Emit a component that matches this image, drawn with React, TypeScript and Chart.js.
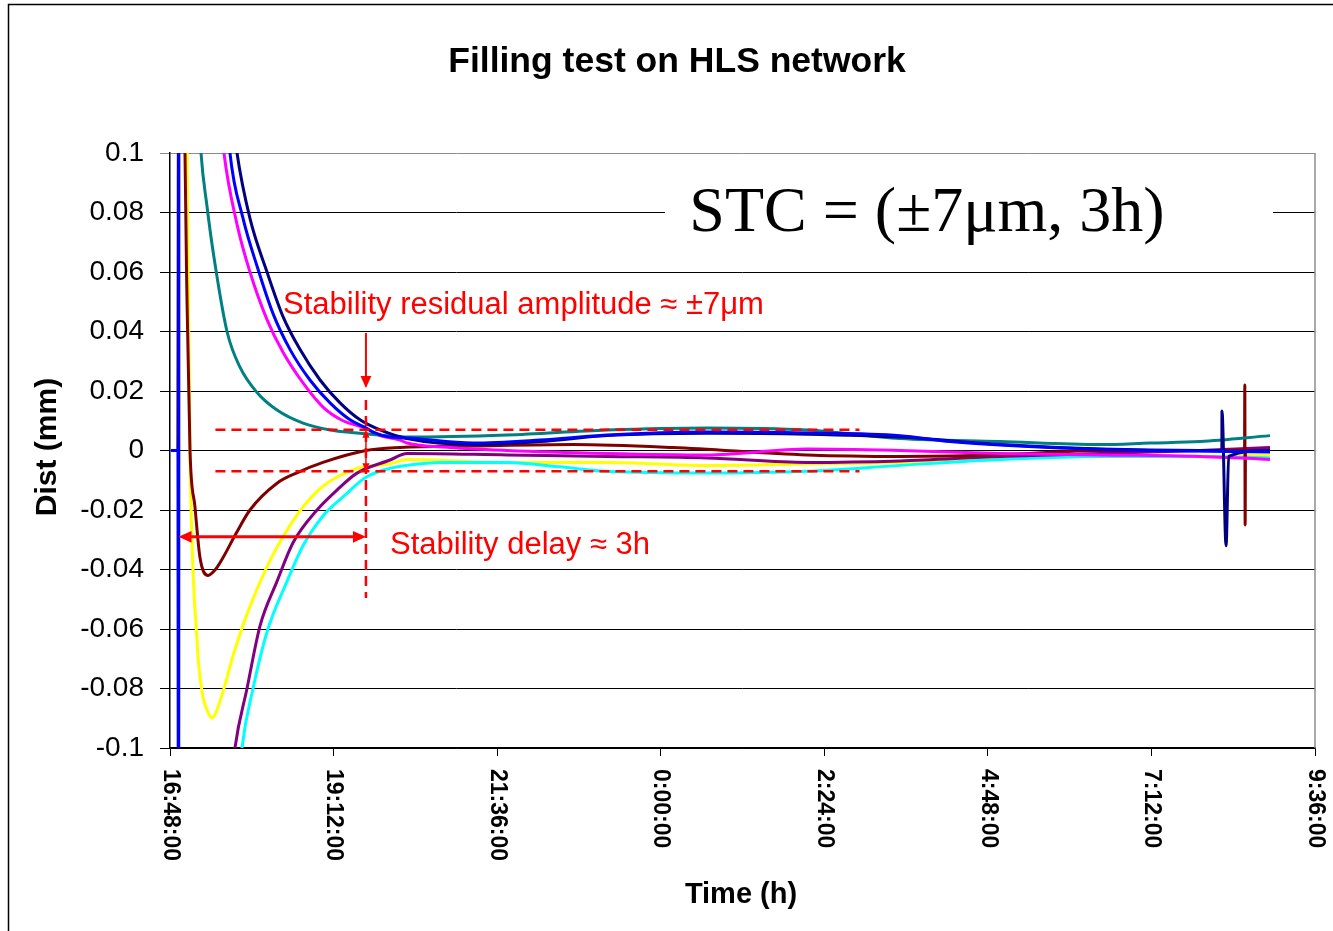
import React, { useEffect, useRef } from "react";
import { Chart, registerables } from "chart.js";

Chart.register(...registerables);

// ---- axis ticks ----
const xTickMinutes = [0, 144, 288, 432, 576, 720, 864, 1008];
const xTickLabels = ["16:48:00", "19:12:00", "21:36:00", "0:00:00", "2:24:00", "4:48:00", "7:12:00", "9:36:00"];
const yTickValues = [-0.1, -0.08, -0.06, -0.04, -0.02, 0, 0.02, 0.04, 0.06, 0.08, 0.1];
const yTickLabels = ["-0.1", "-0.08", "-0.06", "-0.04", "-0.02", "0", "0.02", "0.04", "0.06", "0.08", "0.1"];

// ---- series: time in minutes since 16:48, distance in mm ----
const blueT = [1, 7.2, 7.5, 8, 30, 45, 52.8, 64.3, 76.6, 90.7, 105.6, 123.2, 140.9, 158.5, 172.5, 178.7, 193.7, 208.6, 266.7, 325.7, 384.7, 472.7, 560.8, 642.7, 686.7, 774.7, 862.7, 968.4];
const blueV = [0, 0, -0.5, 0.5, 0.25, 0.14, 0.1, 0.078, 0.062, 0.046, 0.034, 0.0237, 0.016, 0.0103, 0.0076, 0.0062, 0.0045, 0.0042, 0.0025, 0.0035, 0.0052, 0.0062, 0.0059, 0.005, 0.003, 0.001, 0, -0.0005];

const navyT = [1, 7.2, 8, 30, 50, 59, 70.4, 85.4, 99.5, 114.4, 132.1, 149.7, 167.3, 184.9, 208.6, 266.7, 325.7, 384.7, 472.7, 560.8, 642.7, 730.7, 818.7, 906.8, 926, 926.1, 929.7, 932, 968.4];
const navyV = [0, 0, 0.5, 0.27, 0.13, 0.1, 0.078, 0.06, 0.045, 0.034, 0.0237, 0.016, 0.0103, 0.0069, 0.004, 0.002, 0.003, 0.005, 0.0058, 0.0055, 0.0045, 0.002, 0.0005, 0, 0, 0.0133, -0.032, -0.002, 0];

const tealT = [1, 7.2, 8, 15, 22, 27.3, 32.6, 37.9, 50.2, 61.6, 76.6, 94.2, 117.1, 140.9, 164.6, 193.7, 208.6, 296.7, 384.7, 472.7, 560.8, 642.7, 730.7, 818.7, 862.7, 906.8, 968.4];
const tealV = [0, 0, 0.5, 0.25, 0.14, 0.1, 0.082, 0.067, 0.04, 0.028, 0.0195, 0.0136, 0.0092, 0.0069, 0.0059, 0.0049, 0.0045, 0.0052, 0.0069, 0.0076, 0.0069, 0.004, 0.003, 0.002, 0.0025, 0.003, 0.005];

const magentaT = [1, 7.2, 8, 25, 40, 47.5, 59, 70.4, 85.4, 99.5, 117.1, 134.7, 152.3, 172.5, 184.9, 202.5, 208.6, 246.5, 296.7, 384.7, 472.7, 560.8, 642.7, 730.7, 818.7, 906.8, 968.4];
const magentaV = [0, 0, 0.5, 0.25, 0.13, 0.1, 0.076, 0.06, 0.044, 0.033, 0.0227, 0.0146, 0.01, 0.0075, 0.005, 0.0035, 0.0025, 0.001, 0, -0.001, -0.0015, 0.0005, 0, -0.001, -0.0015, -0.002, -0.003];

const brownT = [1, 7.2, 8, 13.2, 15, 17.6, 22, 26.4, 33.5, 40, 46.7, 58, 70.4, 94.2, 111.8, 134.7, 172.5, 202.5, 266.7, 354.8, 442.8, 560.8, 642.7, 730.7, 818.7, 906.8, 946, 946.2, 946.5, 946.8, 968.4];
const brownV = [0, 0, 0.4, 0.1, 0.05, 0, -0.019, -0.036, -0.042, -0.04, -0.036, -0.028, -0.02, -0.011, -0.0075, -0.004, 0, 0.001, 0.0015, 0.002, 0.001, -0.0015, -0.002, -0.0015, 0, 0, 0, 0.022, -0.025, 0, 0];

const purpleT = [1, 7.2, 8, 30, 45, 52, 57.2, 67.8, 79.2, 94.2, 108.3, 129.4, 147, 164.6, 193.7, 208.6, 296.7, 384.7, 472.7, 560.8, 642.7, 730.7, 818.7, 906.8, 968.4];
const purpleV = [0, 0, -0.5, -0.3, -0.16, -0.12, -0.1, -0.08, -0.059, -0.044, -0.031, -0.02, -0.0133, -0.0076, -0.0032, -0.001, -0.0015, -0.002, -0.0025, -0.004, -0.0035, -0.002, -0.001, 0, 0.001];

const cyanT = [1, 7.2, 8, 30, 50, 57, 63.4, 73.1, 85.4, 103, 117.1, 134.7, 152.3, 172.5, 193.7, 208.6, 237.7, 296.7, 343.3, 384.7, 472.7, 560.8, 642.7, 730.7, 818.7, 906.8, 968.4];
const cyanV = [0, 0, -0.5, -0.35, -0.17, -0.13, -0.1, -0.08, -0.061, -0.044, -0.032, -0.022, -0.0156, -0.009, -0.006, -0.005, -0.004, -0.004, -0.0055, -0.007, -0.0076, -0.007, -0.005, -0.003, -0.002, -0.002, -0.0025];

const yellowT = [1, 7.2, 8, 15, 17.6, 23.8, 28.2, 33.5, 37, 40.5, 46.7, 55.5, 67.8, 85.4, 99.5, 117.1, 134.7, 164.6, 193.7, 208.6, 296.7, 384.7, 472.7, 560.8, 642.7, 730.7, 818.7, 906.8, 968.4];
const yellowV = [0, 0, 0.4, 0.1, 0, -0.064, -0.081, -0.088, -0.09, -0.088, -0.081, -0.069, -0.055, -0.039, -0.029, -0.019, -0.012, -0.006, -0.0045, -0.003, -0.004, -0.004, -0.005, -0.0045, -0.004, -0.0025, -0.002, -0.002, -0.0015];

// ---- annotation values ----
const stabT = 172.5; // stability reached (minutes)
const fillT = 7.5; // filling start (minutes)
const bandHi = 0.007;
const bandLo = -0.007;
const bandStartT = 40;
const bandEndT = 607;
const delayArrowV = -0.029;

const FONT = "'Liberation Sans', Arial, Helvetica, sans-serif";

const pts = (t: number[], v: number[]) => t.map((x, i) => ({ x, y: v[i] }));

function arrowHead(ctx: CanvasRenderingContext2D, x: number, y: number, dx: number, dy: number, size: number) {
  const len = Math.hypot(dx, dy);
  const ux = dx / len, uy = dy / len;
  const px = -uy, py = ux;
  ctx.beginPath();
  ctx.moveTo(x, y);
  ctx.lineTo(x - ux * size + px * size * 0.45, y - uy * size + py * size * 0.45);
  ctx.lineTo(x - ux * size - px * size * 0.45, y - uy * size - py * size * 0.45);
  ctx.closePath();
  ctx.fill();
}

const decor = {
  id: "decor",
  beforeDraw(chart: any) {
    const ctx = chart.ctx as CanvasRenderingContext2D;
    ctx.save();
    ctx.fillStyle = "#ffffff";
    ctx.fillRect(0, 0, chart.width, chart.height);
    ctx.strokeStyle = "#000";
    ctx.lineWidth = 1.5;
    ctx.beginPath();
    ctx.moveTo(8.5, chart.height + 5);
    ctx.lineTo(8.5, 4.5);
    ctx.lineTo(chart.width + 5, 4.5);
    ctx.stroke();
    ctx.restore();
  },
  afterDatasetsDraw(chart: any) {
    const ctx = chart.ctx as CanvasRenderingContext2D;
    const xs = chart.scales.x, ys = chart.scales.y;
    const X = (t: number) => xs.getPixelForValue(t);
    const Y = (v: number) => ys.getPixelForValue(v);
    ctx.save();
    ctx.strokeStyle = "#ff0000";
    ctx.fillStyle = "#ff0000";
    // dashed band
    ctx.lineWidth = 2.5;
    ctx.setLineDash([10, 6]);
    ctx.beginPath();
    ctx.moveTo(X(bandStartT), Y(bandHi));
    ctx.lineTo(X(bandEndT), Y(bandHi));
    ctx.moveTo(X(bandStartT), Y(bandLo));
    ctx.lineTo(X(bandEndT), Y(bandLo));
    ctx.moveTo(X(stabT), Y(0.017));
    ctx.lineTo(X(stabT), Y(-0.0496));
    ctx.stroke();
    ctx.setLineDash([]);
    // down arrow
    const sx = X(stabT);
    ctx.lineWidth = 2;
    ctx.beginPath();
    ctx.moveTo(sx, Y(0.0395));
    ctx.lineTo(sx, Y(0.0215));
    ctx.stroke();
    arrowHead(ctx, sx, Y(0.021), 0, 1, 12);
    // small double vertical arrow
    ctx.lineWidth = 1.5;
    ctx.beginPath();
    ctx.moveTo(sx, Y(bandHi) + 5);
    ctx.lineTo(sx, Y(bandLo) - 5);
    ctx.stroke();
    arrowHead(ctx, sx, Y(bandHi), 0, -1, 8);
    arrowHead(ctx, sx, Y(bandLo), 0, 1, 8);
    // horizontal double arrow
    ctx.lineWidth = 3;
    const ay = Y(delayArrowV);
    ctx.beginPath();
    ctx.moveTo(X(fillT) + 8, ay);
    ctx.lineTo(sx - 8, ay);
    ctx.stroke();
    arrowHead(ctx, X(fillT), ay, -1, 0, 13);
    arrowHead(ctx, sx, ay, 1, 0, 13);
    // texts
    ctx.font = `31px ${FONT}`;
    ctx.textBaseline = "alphabetic";
    ctx.textAlign = "left";
    ctx.fillText("Stability residual amplitude \u2248 \u00b17\u03bcm", 283, 314);
    ctx.fillText("Stability delay \u2248 3h", 390, 554);
    // STC box
    ctx.fillStyle = "#ffffff";
    ctx.fillRect(665, 180, 608, 64);
    ctx.fillStyle = "#000000";
    ctx.font = `64px 'Liberation Serif', 'Times New Roman', serif`;
    ctx.textAlign = "center";
    ctx.fillText("STC = (\u00b17\u03bcm, 3h)", 927, 231);
    ctx.restore();
  },
  afterDraw(chart: any) {
    const ctx = chart.ctx as CanvasRenderingContext2D;
    const xs = chart.scales.x;
    const area = chart.chartArea;
    ctx.save();
    // right border of plot area
    ctx.strokeStyle = "#8c8c8c";
    ctx.lineWidth = 1.5;
    ctx.beginPath();
    ctx.moveTo(area.right, area.top);
    ctx.lineTo(area.right, area.bottom);
    ctx.stroke();
    // title
    ctx.fillStyle = "#000";
    ctx.textAlign = "center";
    ctx.textBaseline = "alphabetic";
    ctx.font = `bold 35.5px ${FONT}`;
    ctx.fillText("Filling test on HLS network", 677, 72);
    // axis titles
    ctx.font = `bold 29px ${FONT}`;
    ctx.fillText("Time (h)", 741, 903);
    ctx.save();
    ctx.translate(48, 447);
    ctx.rotate(-Math.PI / 2);
    ctx.textBaseline = "middle";
    ctx.font = `bold 30px ${FONT}`;
    ctx.fillText("Dist (mm)", 0, 0);
    ctx.restore();
    // x tick labels, rotated clockwise
    ctx.font = `bold 23px ${FONT}`;
    ctx.textAlign = "left";
    ctx.textBaseline = "middle";
    xTickMinutes.forEach((t, i) => {
      ctx.save();
      ctx.translate(xs.getPixelForValue(t), area.bottom + 21);
      ctx.rotate(Math.PI / 2);
      ctx.fillText(xTickLabels[i], 0, 0);
      ctx.restore();
    });
    ctx.restore();
  },
};

export default function App() {
  const ref = useRef<HTMLCanvasElement | null>(null);
  useEffect(() => {
    if (!ref.current) return;
    const ds = (label: string, color: string, t: number[], v: number[]) => ({
      label,
      data: pts(t, v),
      borderColor: color,
      backgroundColor: color,
      borderWidth: 3,
      pointRadius: 0,
      cubicInterpolationMode: "monotone" as const,
      fill: false,
    });
    const chart = new Chart(ref.current, {
      type: "line",
      data: {
        datasets: [
          ds("Blue", "#0000ff", blueT, blueV),
          ds("Navy", "#000080", navyT, navyV),
          ds("Teal", "#008080", tealT, tealV),
          ds("Magenta", "#ff00ff", magentaT, magentaV),
          ds("Brown", "#800000", brownT, brownV),
          ds("Purple", "#800080", purpleT, purpleV),
          ds("Cyan", "#00ffff", cyanT, cyanV),
          ds("Yellow", "#ffff00", yellowT, yellowV),
        ],
      },
      options: {
        animation: false,
        responsive: false,
        maintainAspectRatio: false,
        layout: { padding: { left: 0, right: 18, top: 153, bottom: 0 } },
        plugins: { legend: { display: false }, title: { display: false }, tooltip: { enabled: false } },
        scales: {
          x: {
            type: "linear",
            min: 0,
            max: 1008,
            afterBuildTicks: (s: any) => {
              s.ticks = xTickMinutes.map((v) => ({ value: v }));
            },
            afterFit: (s: any) => {
              s.height = 183;
            },
            ticks: { display: false },
            grid: { drawOnChartArea: false, drawTicks: true, tickLength: 8, color: "#000", lineWidth: 1 },
            border: { display: true, color: "#000", width: 1.5 },
          },
          y: {
            type: "linear",
            min: -0.1,
            max: 0.1,
            afterBuildTicks: (s: any) => {
              s.ticks = yTickValues.map((v) => ({ value: v }));
            },
            afterFit: (s: any) => {
              s.width = 170;
            },
            ticks: {
              padding: 16,
              color: "#000",
              font: { family: FONT, size: 28 },
              callback: (_v: any, i: number) => yTickLabels[i],
            },
            grid: {
              drawTicks: true,
              tickLength: 10,
              lineWidth: 1,
              color: (c: any) => (c.tick && Math.abs(c.tick.value - 0.1) < 1e-9 ? "#8c8c8c" : "#000"),
            },
            border: { display: true, color: "#000", width: 1.5 },
          },
        },
      },
      plugins: [decor],
    });
    return () => chart.destroy();
  }, []);
  return (
    <div style={{ position: "absolute", left: 0, top: 0, width: 1333, height: 931 }}>
      <canvas ref={ref} width={1333} height={931} style={{ display: "block" }} />
    </div>
  );
}
